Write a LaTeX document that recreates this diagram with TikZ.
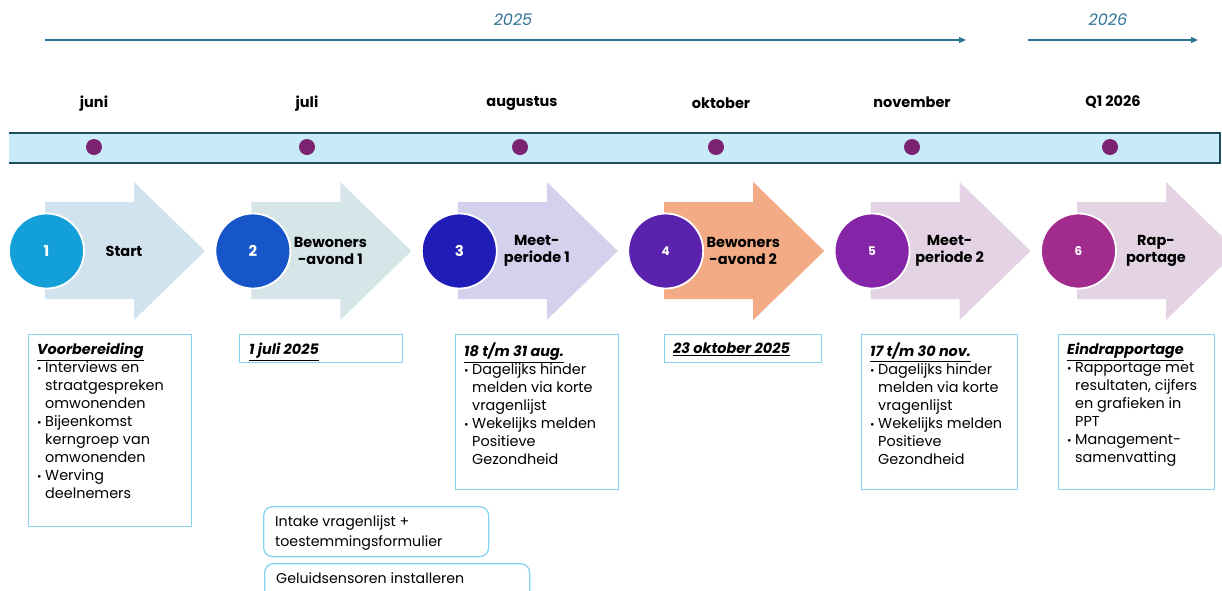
\documentclass[tikz,border=0pt]{standalone}
\usepackage{fontspec}
\setmainfont{Poppins}
\usetikzlibrary{arrows.meta}
\definecolor{yearblue}{HTML}{2E7396}
\definecolor{bandfill}{HTML}{C9EAF8}
\definecolor{banddark}{HTML}{1F4E60}
\definecolor{dotpurple}{HTML}{7B2270}
\definecolor{boxblue}{HTML}{86D4F2}
\definecolor{a1}{HTML}{D2E3F0}
\definecolor{a2}{HTML}{D5E5E8}
\definecolor{a3}{HTML}{D4D1ED}
\definecolor{a4}{HTML}{F2AB85}
\definecolor{a5}{HTML}{E3D3E5}
\definecolor{a6}{HTML}{E3D3E3}
\definecolor{c1}{HTML}{13A0D8}
\definecolor{c2}{HTML}{1756C8}
\definecolor{c3}{HTML}{1F1CB8}
\definecolor{c4}{HTML}{5B22AE}
\definecolor{c5}{HTML}{8424A6}
\definecolor{c6}{HTML}{A22B8E}
\newcommand{\bl}{\makebox[8pt][l]{\fontsize{11}{11}\selectfont\textbullet}}
\newcommand{\ind}{\hspace*{8pt}}
\newcommand{\ttl}[1]{\underline{\textbf{\textit{#1}}}}
\begin{document}
\begin{tikzpicture}[x=1pt,y=-1pt,
  month/.style={font=\fontsize{14.5}{16}\selectfont\bfseries, text=black, anchor=base},
  year/.style={font=\fontsize{16}{18}\selectfont\itshape, text=yearblue},
  yeararrow/.style={draw=yearblue, line width=1.1pt, -{Triangle[length=7pt,width=6pt]}},
  dot/.style={circle, fill=dotpurple, minimum size=16pt, inner sep=0},
  num/.style={circle, minimum size=75pt, inner sep=0, draw=white, line width=1.8pt, text=white},
  steplabel/.style={align=center, font=\fontsize{14.5}{17}\selectfont\bfseries},
  infobox/.style={draw=boxblue, line width=1.3pt, anchor=north west, inner sep=0},
  infotext/.style={anchor=north west, inner sep=0, align=left, font=\fontsize{14.4}{18}\selectfont},
  roundbox/.style={draw=boxblue, line width=1.3pt, rounded corners=9pt, anchor=north west, inner sep=0},
  roundtext/.style={anchor=north west, inner sep=0, align=left, font=\fontsize{14.2}{20}\selectfont},
]
\useasboundingbox (0,0) rectangle (1222,590);

% year arrows
\coordinate (y1s) at (45,40);
\coordinate (y1e) at (966,40);
\coordinate (y2s) at (1028,40);
\coordinate (y2e) at (1198,40);
\draw[yeararrow] (y1s) -- (y1e);
\draw[yeararrow] (y2s) -- (y2e);
\node[year] (yr1) at (513,20) {2025};
\node[year] (yr2) at (1108,20) {2026};

% months
\node[month] (m1) at (94,107) {juni};
\node[month] (m2) at (307,107) {juli};
\node[month] (m3) at (522,106) {augustus};
\node[month] (m4) at (721,108) {oktober};
\node[month] (m5) at (912,107) {november};
\node[month] (m6) at (1113,106) {Q1 2026};

% band
\fill[bandfill] (9,133) rectangle (1220,163);
\draw[banddark, line width=1.6pt] (9,133) -- (1220,133) -- (1220,163) -- (9,163);
\foreach \i/\x in {1/94,2/307,3/520,4/716,5/912,6/1110}
  \node[dot] (d\i) at (\x,147) {};

% chevrons with circles
\foreach \i/\L/\ns/\lab in {1/45/15/{Start},
                            2/251.4/15/{Bewoners\\-avond 1},
                            3/457.8/15/{Meet-\\periode 1},
                            4/664.2/12/{Bewoners\\-avond 2},
                            5/870.6/12/{Meet-\\periode 2},
                            6/1077/12/{Rap-\\portage}} {
  \fill[a\i] (\L,202) -- ({\L+89},202) -- ({\L+89},182) -- ({\L+160},251)
        -- ({\L+89},320) -- ({\L+89},299) -- (\L,299) -- cycle;
  \node[num, fill=c\i, font=\fontsize{\ns}{\ns}\selectfont\bfseries] (c\i) at ({\L+1.5},251) {\i};
  \node[steplabel] (l\i) at ({\L+79},251) {\lab};
}

% info boxes
\node[infobox, minimum width=163pt, minimum height=192pt] (b1) at (28,334) {};
\node[infobox, minimum width=163pt, minimum height=28pt] (b2) at (239,334) {};
\node[infobox, minimum width=163pt, minimum height=155pt] (b3) at (455,334) {};
\node[infobox, minimum width=157pt, minimum height=28pt] (b4) at (664,334) {};
\node[infobox, minimum width=156pt, minimum height=155pt] (b5) at (861,334) {};
\node[infobox, minimum width=156pt, minimum height=155pt] (b6) at (1058,334) {};

\node[infotext] (t1) at ([xshift=9pt,yshift=-9pt]b1.north west)
  {\ttl{Voorbereiding}\\
   \bl Interviews en\\ \ind straatgespreken\\ \ind omwonenden\\
   \bl Bijeenkomst\\ \ind kerngroep van\\ \ind omwonenden\\
   \bl Werving\\ \ind deelnemers};
\node[infotext] (t2) at ([xshift=10pt,yshift=-9pt]b2.north west) {\ttl{1 juli 2025}};
\node[infotext] (t3) at ([xshift=9pt,yshift=-9pt]b3.north west)
  {\ttl{18 t/m 31 aug.}\\
   \bl Dagelijks hinder\\ \ind melden via korte\\ \ind vragenlijst\\
   \bl Wekelijks melden\\ \ind Positieve\\ \ind Gezondheid};
\node[infotext] (t4) at ([xshift=9pt,yshift=-9pt]b4.north west) {\ttl{23 oktober 2025}};
\node[infotext] (t5) at ([xshift=9pt,yshift=-9pt]b5.north west)
  {\ttl{17 t/m 30 nov.}\\
   \bl Dagelijks hinder\\ \ind melden via korte\\ \ind vragenlijst\\
   \bl Wekelijks melden\\ \ind Positieve\\ \ind Gezondheid};
\node[infotext] (t6) at ([xshift=9pt,yshift=-9pt]b6.north west)
  {\ttl{Eindrapportage}\\
   \bl Rapportage met\\ \ind resultaten, cijfers\\ \ind en grafieken in\\ \ind PPT\\
   \bl Management-\\ \ind samenvatting};

% rounded boxes
\node[roundbox, minimum width=225pt, minimum height=50pt] (r1) at (263,506) {};
\node[roundtext] (rt1) at ([xshift=12pt,yshift=-9pt]r1.north west)
  {Intake vragenlijst +\\toestemmingsformulier};
\node[roundbox, minimum width=265pt, minimum height=40pt] (r2) at (264,563) {};
\node[roundtext] (rt2) at ([xshift=12pt,yshift=-9pt]r2.north west)
  {Geluidsensoren installeren};
\end{tikzpicture}
\end{document}
